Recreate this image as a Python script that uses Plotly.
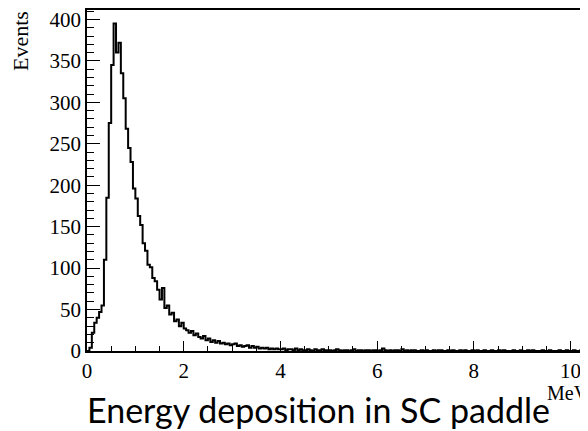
import numpy as np
import plotly.graph_objects as go

# Histogram: energy deposition (MeV), bin width 0.05 MeV starting at 0
bin_width = 0.05
counts = [
    0, 4, 22, 34, 40, 47,                      # 0.00 - 0.30
    55, 110, 185, 275, 345, 395, 360, 372,     # 0.30 - 0.70
    335, 305, 268, 245, 228, 196, 184, 163,    # 0.70 - 1.10
    152, 130, 121, 104, 101, 88, 84, 74,       # 1.10 - 1.50
    62, 76, 52, 55, 44, 46, 36, 38, 30, 34,    # 1.50 - 2.00
    27, 25, 22, 24, 19, 21, 17, 15, 18, 13,    # 2.00 - 2.50
    15, 11, 13, 10, 12, 9, 10, 8, 9, 7,        # 2.50 - 3.00
    8, 9, 6, 7, 5, 6, 7, 4, 6, 4,              # 3.00 - 3.50
    5, 3, 4, 3, 4, 2, 3, 2, 3, 2,              # 3.50 - 4.00
    2, 3, 1, 2, 2, 1, 3, 1, 2, 1, 1, 2, 1, 0, 2, 1, 1, 2, 1, 1,   # 4 - 5
    1, 0, 1, 2, 1, 0, 1, 1, 0, 1, 2, 0, 1, 1, 0, 1, 1, 0, 1, 1,   # 5 - 6
    0, 1, 3, 1, 0, 1, 0, 1, 1, 0, 2, 0, 1, 0, 1, 1, 0, 0, 1, 0,   # 6 - 7
    1, 0, 0, 1, 0, 1, 1, 0, 0, 1, 0, 1, 0, 0, 1, 0, 1, 0, 0, 1,   # 7 - 8
    0, 1, 0, 0, 1, 0, 0, 1, 0, 0, 1, 0, 1, 0, 0, 0, 1, 0, 0, 1,   # 8 - 9
    0, 0, 1, 0, 1, 0, 0, 0, 1, 0, 0, 1, 0, 0, 0, 1, 0, 0, 1, 0,   # 9 - 10
    0, 1, 0, 0, 1, 0, 0, 0,                                        # 10 - 10.4
]

x_tick_vals = [0, 2, 4, 6, 8, 10]
y_tick_vals = [0, 50, 100, 150, 200, 250, 300, 350, 400]
title_text = "Energy deposition in SC paddle"
x_unit = "MeV"
y_label = "Events"

edges = np.arange(len(counts) + 1) * bin_width
xs = [0.0] + list(edges[:-1]) + [edges[-1]]
ys = [0] + list(counts) + [counts[-1]]

fig = go.Figure()
fig.add_trace(go.Scatter(
    x=xs, y=ys, mode="lines", line=dict(shape="hv", color="black", width=2),
    hoverinfo="skip", showlegend=False,
))

serif = "Liberation Serif, Times New Roman, serif"

fig.update_layout(
    width=580, height=423,
    margin=dict(l=79, r=0, t=0, b=80, pad=0),
    paper_bgcolor="white", plot_bgcolor="white",
    xaxis=dict(
        range=[0, 10.36], showgrid=False, zeroline=False,
        showline=True, linecolor="black", linewidth=1.5, mirror=True,
        ticks="inside", ticklen=10, tickwidth=1, tickcolor="black",
        tickvals=x_tick_vals, ticktext=[str(v) for v in x_tick_vals],
        tickfont=dict(family=serif, size=21, color="black"),
        ticklabeloverflow="allow",
        minor=dict(ticks="inside", ticklen=5, dtick=0.5, tickcolor="black", tickwidth=1, showgrid=False),
    ),
    yaxis=dict(
        range=[0, 411.4], showgrid=False, zeroline=False,
        showline=True, linecolor="black", linewidth=1.5, mirror=False,
        ticks="inside", ticklen=13, tickwidth=1, tickcolor="black",
        tickvals=y_tick_vals, ticktext=[str(v) for v in y_tick_vals],
        tickfont=dict(family=serif, size=21, color="black"),
        ticklabeloverflow="allow",
        minor=dict(ticks="inside", ticklen=7, dtick=10, tickcolor="black", tickwidth=1, showgrid=False),
    ),
    annotations=[
        dict(text=y_label, xref="paper", yref="paper", x=-0.1317, y=1.003,
             xanchor="center", yanchor="top", textangle=-90, showarrow=False,
             font=dict(family=serif, size=22, color="black")),
        dict(text=x_unit, xref="paper", yref="paper", x=0.914, y=-0.122,
             xanchor="left", yanchor="middle", showarrow=False,
             font=dict(family=serif, size=20, color="black")),
        dict(text=title_text, xref="paper", yref="paper", x=0.463, y=-0.173,
             xanchor="center", yanchor="middle", showarrow=False,
             font=dict(family="Lato, Carlito, sans-serif", size=34, color="black")),
    ],
)

fig.write_html("out.html")
